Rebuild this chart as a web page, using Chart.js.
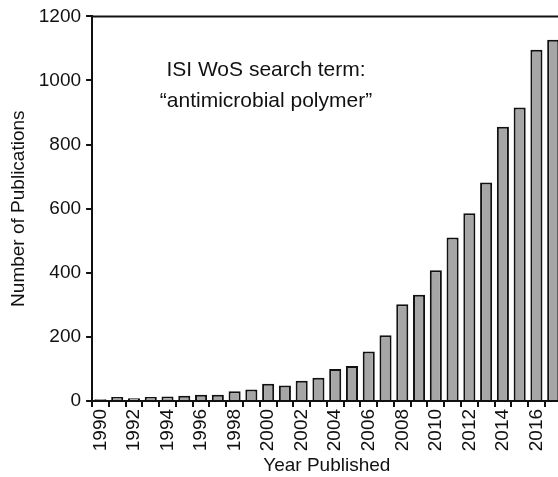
<!DOCTYPE html>
<html>
<head>
<meta charset="utf-8">
<script src="https://cdn.jsdelivr.net/npm/chart.js@4"></script>
<style>
  html, body { margin: 0; padding: 0; background: #fff; overflow: hidden; }
  #wrap { width: 558px; height: 477px; overflow: hidden; }
  #box { width: 578px; height: 477px; }
</style>
</head>
<body>
<div id="wrap"><div id="box"><canvas id="pubChart"></canvas></div></div>
<script>
const years = ['1990', '1991', '1992', '1993', '1994', '1995', '1996', '1997', '1998', '1999',
  '2000', '2001', '2002', '2003', '2004', '2005', '2006', '2007', '2008', '2009',
  '2010', '2011', '2012', '2013', '2014', '2015', '2016', '2017'];
const publications = [5, 12, 8, 12, 14, 16, 19, 19, 30, 36,
  54, 48, 63, 72, 100, 109, 154, 205, 302, 331,
  408, 510, 586, 682, 856, 916, 1096, 1127];
const yTicks = [0, 200, 400, 600, 800, 1000, 1200];
const noteLines = ['ISI WoS search term:', '\u201Cantimicrobial polymer\u201D'];

const fontFamily = "'Liberation Sans', Arial, Helvetica, sans-serif";
const ink = '#111';

// top frame line + annotation inside the plot
const extras = {
  id: 'extras',
  afterDraw(chart) {
    const { ctx, chartArea } = chart;
    ctx.save();
    ctx.strokeStyle = ink;
    ctx.lineWidth = 2;
    ctx.beginPath();
    ctx.moveTo(chartArea.left, chartArea.top);
    ctx.lineTo(chartArea.right + 5, chartArea.top);
    ctx.stroke();

    ctx.fillStyle = ink;
    ctx.font = '21px ' + fontFamily;
    ctx.textAlign = 'center';
    ctx.textBaseline = 'middle';
    noteLines.forEach((line, i) => {
      ctx.fillText(line, 266, 70 + i * 31);
    });
    ctx.restore();
  }
};

new Chart(document.getElementById('pubChart'), {
  type: 'bar',
  data: {
    labels: years,
    datasets: [{
      data: publications,
      backgroundColor: '#a6a6a6',
      borderColor: ink,
      borderWidth: 2,
      barPercentage: 0.72,
      categoryPercentage: 1.0
    }]
  },
  options: {
    responsive: true,
    maintainAspectRatio: false,
    animation: false,
    layout: { padding: { top: 4, right: 0, left: 7, bottom: 0 } },
    plugins: {
      legend: { display: false },
      tooltip: { enabled: false }
    },
    scales: {
      x: {
        grid: { display: true, drawOnChartArea: false, drawTicks: true, tickLength: 6, color: ink, lineWidth: 2, offset: true },
        border: { display: true, color: ink, width: 2 },
        ticks: {
          autoSkip: false,
          maxRotation: 90,
          minRotation: 90,
          padding: 2,
          color: ink,
          font: { family: fontFamily, size: 19 },
          callback: (v, i) => (i % 2 === 0 ? years[i] : '')
        },
        title: {
          display: true,
          text: 'Year Published',
          color: ink,
          font: { family: fontFamily, size: 19 },
          padding: { top: 1, bottom: 0 }
        }
      },
      y: {
        min: 0,
        max: 1200,
        afterBuildTicks: axis => { axis.ticks = yTicks.map(v => ({ value: v })); },
        grid: { display: true, drawOnChartArea: false, drawTicks: true, tickLength: 6, color: ink, lineWidth: 2 },
        border: { display: true, color: ink, width: 2 },
        ticks: {
          padding: 5,
          color: ink,
          font: { family: fontFamily, size: 19 },
          callback: v => String(v)
        },
        title: {
          display: true,
          text: 'Number of Publications',
          color: ink,
          font: { family: fontFamily, size: 19 },
          padding: { top: 0, bottom: 4 }
        }
      }
    }
  },
  plugins: [extras]
});
</script>
</body>
</html>
